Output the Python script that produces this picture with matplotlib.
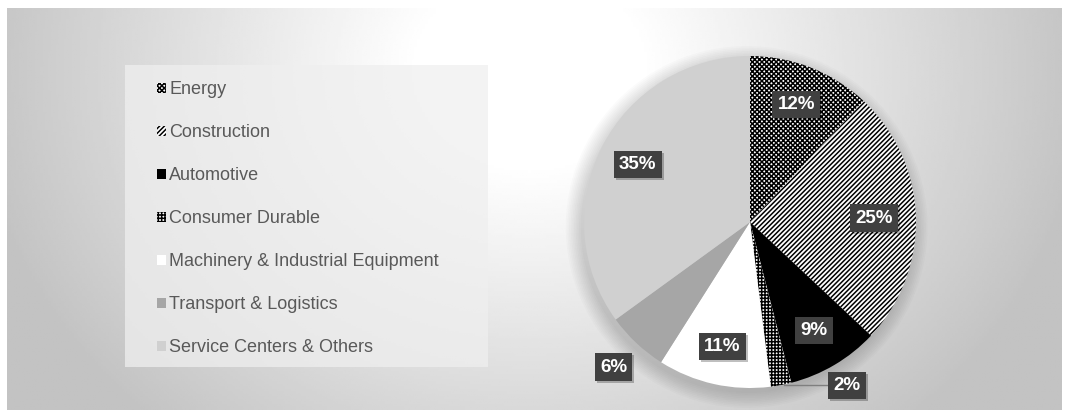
import numpy as np
import matplotlib.pyplot as plt
from matplotlib.patches import Patch, Rectangle, Circle
import matplotlib.transforms as mtransforms

# -------------------------------
# Data
# -------------------------------
sectors = ["Energy", "Construction", "Automotive", "Consumer Durable",
           "Machinery & Industrial Equipment", "Transport & Logistics",
           "Service Centers & Others"]
shares = [12, 25, 9, 2, 11, 6, 35]

# fill style per slice (black & white print look)
face_colors = ["white", "white", "black", "white", "white", "#a6a6a6", "#d0d0d0"]
hatches = ["xxxxxxx", "///////", None, "+++++", None, None, None]

# label radius (fraction of pie radius) for each slice label
label_r = [0.76, 0.75, 0.76, 1.15, 0.77, 1.2, 0.76]

plt.rcParams["hatch.linewidth"] = 1.1
plt.rcParams["font.family"] = ["Liberation Sans", "DejaVu Sans"]

W, H = 1066, 412
fig = plt.figure(figsize=(W / 100, H / 100), dpi=100, facecolor="white")

# -------------------------------
# Background: soft radial gradient
# -------------------------------
bg = fig.add_axes([7 / W, 2 / H, 1055 / W, 402 / H])
xx, yy = np.meshgrid(np.linspace(7, 1062, 400), np.linspace(8, 410, 160))
d = np.sqrt(((xx - 530) / 560) ** 2 + ((yy - 70) / 480) ** 2)
val = 255 - 60 * np.clip((d - 0.2) / 0.8, 0, 1)
bg.imshow(val, cmap="gray", vmin=0, vmax=255, aspect="auto", extent=(0, 1, 0, 1), origin="upper")
bg.set_axis_off()

# legend panel
bg.add_patch(Rectangle((125 / W, (H - 367) / H), 363 / W, 302 / H,
                       transform=fig.transFigure, facecolor="#efefef",
                       alpha=0.75, edgecolor="none", zorder=3))

# -------------------------------
# Pie
# -------------------------------
R = 166
cx, cy = 750, 222
ax = fig.add_axes([0, 0, 1, 1])
ax.set_axis_off()
ax.patch.set_alpha(0)

# soft shadow around the pie
for i in range(10):
    ax.add_patch(Circle((-0.02, -0.03), 1 + 0.01 * i, color="black", alpha=0.015, lw=0, zorder=0))

wedges, _ = ax.pie(shares, startangle=90, counterclock=False, radius=1,
                   colors=face_colors, wedgeprops=dict(linewidth=0, edgecolor="black"))
for w, h in zip(wedges, hatches):
    w.set_zorder(2)
    if h:
        w.set_hatch(h)

ax.set_xlim(-cx / R, (W - cx) / R)
ax.set_ylim(-(H - cy) / R, cy / R)

# -------------------------------
# Data labels
# -------------------------------
shadow_tr = mtransforms.offset_copy(ax.transData, fig=fig, x=2, y=-2, units="dots")
for i, (w, s) in enumerate(zip(wedges, shares)):
    ang = np.deg2rad((w.theta1 + w.theta2) / 2)
    r = label_r[i]
    if sectors[i] == "Consumer Durable":
        # small slice: label outside with a leader line
        ex, ey = np.cos(ang), np.sin(ang)
        tx, ty = 0.585, -0.985
        ax.plot([ex + 0.02, tx - 0.12], [ey, ey], color="#7f7f7f", lw=1, zorder=3)
    else:
        tx, ty = r * np.cos(ang), r * np.sin(ang)
    ax.text(tx, ty, f"{s}%", transform=shadow_tr, ha="center", va="center",
            fontsize=13.5, fontweight="bold", color=(0, 0, 0, 0), zorder=4,
            bbox=dict(boxstyle="square,pad=0.28", facecolor="black", alpha=0.25, edgecolor="none"))
    ax.text(tx, ty, f"{s}%", ha="center", va="center", fontsize=13.5,
            fontweight="bold", color="white", zorder=5,
            bbox=dict(boxstyle="square,pad=0.28", facecolor="#404040", edgecolor="none"))

# -------------------------------
# Legend
# -------------------------------
handles = [Patch(facecolor=fc, hatch=h, edgecolor="black", linewidth=0)
           for fc, h in zip(face_colors, hatches)]
leg = fig.legend(handles, sectors, loc="upper left", bbox_to_anchor=(157 / W, (H - 81) / H),
                 frameon=False, fontsize=13, labelspacing=1.44, handlelength=0.48,
                 handleheight=0.48, handletextpad=0.2, borderpad=0, borderaxespad=0)
for t in leg.get_texts():
    t.set_color("#595959")

fig.savefig("out.png", dpi=100, facecolor="white")
